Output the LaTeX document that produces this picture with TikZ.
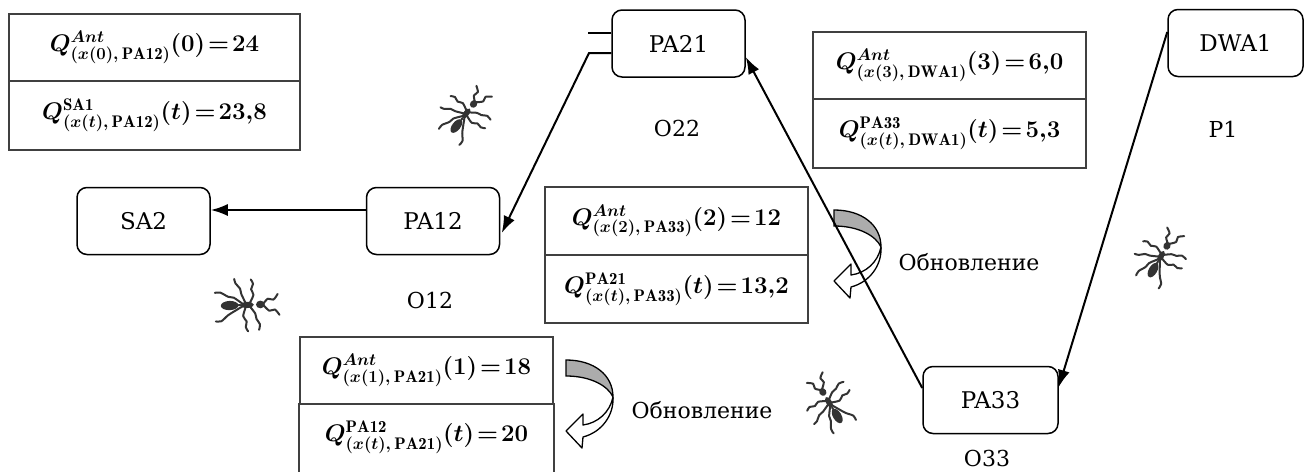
\RequirePackage{fix-cm}
\documentclass[tikz,border=0pt]{standalone}
\usepackage{amsmath}
\usepackage{fontspec}
\newfontfamily\labelfont{DejaVu Serif}
\usetikzlibrary{arrows.meta}

\tikzset{
  state/.style={draw, rounded corners=10pt, minimum width=133pt, minimum height=67pt,
    line width=1.5pt, inner sep=0pt, font=\labelfont\fontsize{23}{27}\selectfont},
  cell/.style={draw=black!75, line width=1.6pt, inner sep=0pt,
    font=\fontsize{24}{28}\selectfont\boldmath},
  lbl/.style={font=\labelfont\fontsize{22}{26}\selectfont},
  link/.style={line width=2pt, -{Latex[length=17pt,width=12pt]}},
  stub/.style={line width=1.5pt},
  refresharrow/.pic={
    \fill[gray!65] (0,0) .. controls (28,0) and (47,-15) .. (47,-37)
      .. controls (42,-26) and (25,-16) .. (0,-16) -- cycle;
    \draw[line width=1.3pt] (0,0) .. controls (28,0) and (47,-15) .. (47,-37)
      .. controls (42,-26) and (25,-16) .. (0,-16) -- cycle;
    \draw[line width=1.3pt, fill=white, line join=round] (47,-37)
      .. controls (44,-52) and (32,-63) .. (17,-65) -- (17,-54) -- (0,-71)
      -- (16,-88) -- (17,-77) .. controls (36,-72) and (48,-55) .. (47,-37);
  },
  antsketch/.pic={
    \begin{scope}[black!80, line width=2pt, line cap=round, line join=round]
      \fill (14,0) ellipse (4 and 3.5);
      \fill (2,0) ellipse (6 and 2.8);
      \fill (-14,0) ellipse (8 and 4.2);
      \draw (-6,0) -- (-4,0);
      \draw plot[smooth] coordinates {(17,1) (21,5) (26,4) (30,9)};
      \draw plot[smooth] coordinates {(17,-1) (22,-6) (27,-5) (31,-10)};
      \draw plot[smooth] coordinates {(4,1) (8,9) (6,14) (8,19) (6,23)};
      \draw plot[smooth] coordinates {(1,1) (-3,10) (-4,15) (-8,20) (-9,24)};
      \draw plot[smooth] coordinates {(-2,1) (-10,7) (-15,8) (-22,12) (-27,12)};
      \draw plot[smooth] coordinates {(4,-1) (9,-8) (10,-13) (13,-18) (12,-23)};
      \draw plot[smooth] coordinates {(1,-1) (-2,-10) (1,-15) (0,-20) (2,-24)};
      \draw plot[smooth] coordinates {(-2,-1) (-11,-6) (-16,-9) (-22,-14) (-27,-14)};
    \end{scope}
  }
}

\begin{document}
\begin{tikzpicture}[x=1pt, y=1pt]
  \useasboundingbox (0,0) rectangle (1308,-471);

  % ants wandering between the states
  \pic[rotate=52] at (465,-115) {antsketch};
  \pic[rotate=2, scale=1.1] at (245,-305) {antsketch};
  \pic[rotate=60] at (1160,-258) {antsketch};
  \pic[rotate=121] at (830,-404) {antsketch};

  % states
  \node[state] (sa2)  at (143.5,-221) {SA2};
  \node[state] (pa12) at (433,-221)   {PA12};
  \node[state] (pa21) at (678.5,-43.5) {PA21};
  \node[state, minimum width=135pt] (dwa1) at (1235.5,-43) {DWA1};
  \node[state, minimum width=135pt] (pa33) at (990.5,-400) {PA33};

  % state labels
  \node[lbl] (o22) at (677,-128) {O22};
  \node[lbl] (p1)  at (1223,-129) {P1};
  \node[lbl] (o12) at (430,-300) {O12};
  \node[lbl] (o33) at (987,-458) {O33};
  \node[lbl] (upd1) at (969,-262) {Обновление};
  \node[lbl] (upd2) at (702,-410) {Обновление};

  % Q-value tables
  \node[cell, minimum width=291pt, minimum height=67pt] (t1a) at (154.5,-47.5)
    {$Q^{Ant}_{(x(0),\,\mathrm{PA12})}(0)\!=\!24$};
  \node[cell, minimum width=291pt, minimum height=69pt] (t1b) at (154.5,-115.5)
    {$Q^{\mathrm{SA1}}_{(x(t),\,\mathrm{PA12})}(t)\!=\!23{,}8$};

  \node[cell, minimum width=273pt, minimum height=67pt] (t2a) at (949.5,-65.5)
    {$Q^{Ant}_{(x(3),\,\mathrm{DWA1})}(3)\!=\!6{,}0$};
  \node[cell, minimum width=273pt, minimum height=69pt] (t2b) at (949.5,-133.5)
    {$Q^{\mathrm{PA33}}_{(x(t),\,\mathrm{DWA1})}(t)\!=\!5{,}3$};

  \node[cell, minimum width=263pt, minimum height=68pt] (t3a) at (676.5,-221)
    {$Q^{Ant}_{(x(2),\,\mathrm{PA33})}(2)\!=\!12$};
  \node[cell, minimum width=263pt, minimum height=68pt] (t3b) at (676.5,-289)
    {$Q^{\mathrm{PA21}}_{(x(t),\,\mathrm{PA33})}(t)\!=\!13{,}2$};

  \node[cell, minimum width=253pt, minimum height=67pt] (t4a) at (426.5,-370.5)
    {$Q^{Ant}_{(x(1),\,\mathrm{PA21})}(1)\!=\!18$};
  \node[cell, draw=none, minimum width=253pt, minimum height=67pt] (t4b) at (426.5,-437.5)
    {$Q^{\mathrm{PA12}}_{(x(t),\,\mathrm{PA21})}(t)\!=\!20$};
  \draw[draw=black!75, line width=1.6pt] (t4b.north west) -- (t4b.south west)
    (t4b.north east) -- (t4b.south east);

  % update arrows
  \pic at (834,-210) {refresharrow};
  \pic at (566,-360) {refresharrow};

  % transitions
  \coordinate (bend) at (589,-53);
  \draw[stub] ([yshift=10.5pt]pa21.west) -- ++(-23,0);
  \draw[link] ([yshift=-9.5pt]pa21.west) -- (bend) -- ([xshift=1.5pt,yshift=-12pt]pa12.east);
  \draw[link] ([yshift=11pt]pa12.west) -- ([yshift=11pt]sa2.east);
  \draw[link] ([yshift=11pt]dwa1.west) -- ([yshift=13pt]pa33.east);
  \draw[link] ([yshift=12pt]pa33.west) -- ([yshift=-13.5pt]pa21.east);
\end{tikzpicture}
\end{document}
